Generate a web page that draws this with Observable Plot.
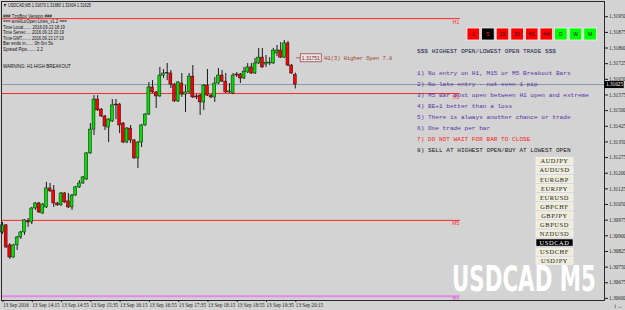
<!DOCTYPE html>
<html><head><meta charset="utf-8">
<script src="https://cdn.jsdelivr.net/npm/d3@7"></script>
<script src="https://cdn.jsdelivr.net/npm/@observablehq/plot@0.6"></script>
<style>
body{margin:0;background:#d3d3d3;}
#wrap{position:relative;width:625px;height:310px;overflow:hidden;}
</style></head><body><div id="wrap"></div>
<script>
// ---- data (USDCAD M5, 13 Sep 2016, bars 13:35 .. 20:15) ----
const open = [
1.30916,1.30950,1.30854,1.30796,1.30854,1.30892,1.30916,1.30969,1.30964,1.31031,
1.31055,1.31007,1.31036,1.31127,1.31117,1.31055,1.31046,1.31103,1.31065,1.31036,
1.31093,1.31132,1.31151,1.31170,1.31295,1.31409,1.31553,1.31505,1.31472,1.31419,
1.31448,1.31529,1.31529,1.31438,1.31347,1.31414,1.31357,1.31271,1.31347,1.31429,
1.31481,1.31611,1.31587,1.31568,1.31668,1.31680,1.31678,1.31625,1.31544,1.31630,
1.31577,1.31587,1.31663,1.31568,1.31572,1.31539,1.31620,1.31572,1.31563,1.31630,
1.31668,1.31639,1.31587,1.31582,1.31673,1.31673,1.31654,1.31683,1.31707,1.31678,
1.31726,1.31754,1.31721,1.31726,1.31726,1.31774,1.31788,1.31754,1.31822,1.31716,
1.31670];
const high = [
1.30964,1.30954,1.30863,1.30859,1.30897,1.30921,1.30978,1.30983,1.31036,1.31060,
1.31060,1.31055,1.31156,1.31151,1.31141,1.31060,1.31108,1.31108,1.31103,1.31098,
1.31137,1.31165,1.31184,1.31299,1.31438,1.31572,1.31572,1.31510,1.31477,1.31462,
1.31553,1.31553,1.31534,1.31443,1.31419,1.31429,1.31362,1.31352,1.31433,1.31486,
1.31635,1.31644,1.31592,1.31707,1.31697,1.31726,1.31692,1.31630,1.31639,1.31678,
1.31620,1.31678,1.31716,1.31577,1.31577,1.31625,1.31697,1.31577,1.31659,1.31702,
1.31692,1.31678,1.31630,1.31678,1.31683,1.31678,1.31707,1.31726,1.31726,1.31750,
1.31798,1.31798,1.31764,1.31754,1.31798,1.31812,1.31826,1.31836,1.31831,1.31721,
1.31680];
const low = [
1.30907,1.30840,1.30787,1.30792,1.30830,1.30883,1.30902,1.30940,1.30954,1.31022,
1.31007,1.31002,1.31031,1.31108,1.31036,1.31041,1.31041,1.31055,1.31031,1.31022,
1.31089,1.31127,1.31146,1.31165,1.31290,1.31381,1.31496,1.31467,1.31405,1.31347,
1.31443,1.31457,1.31390,1.31342,1.31342,1.31342,1.31266,1.31223,1.31323,1.31424,
1.31477,1.31582,1.31510,1.31563,1.31654,1.31644,1.31606,1.31539,1.31539,1.31563,
1.31491,1.31582,1.31558,1.31553,1.31477,1.31501,1.31568,1.31558,1.31539,1.31625,
1.31635,1.31582,1.31582,1.31577,1.31659,1.31630,1.31649,1.31678,1.31673,1.31673,
1.31721,1.31702,1.31707,1.31716,1.31721,1.31759,1.31750,1.31750,1.31711,1.31673,
1.31604];
const close = [
1.30950,1.30844,1.30796,1.30854,1.30892,1.30916,1.30974,1.30964,1.31031,1.31055,
1.31012,1.31050,1.31127,1.31113,1.31055,1.31046,1.31103,1.31060,1.31036,1.31093,
1.31132,1.31151,1.31180,1.31295,1.31409,1.31553,1.31501,1.31472,1.31424,1.31457,
1.31525,1.31525,1.31429,1.31347,1.31414,1.31357,1.31271,1.31347,1.31429,1.31481,
1.31611,1.31587,1.31568,1.31668,1.31678,1.31678,1.31625,1.31544,1.31635,1.31577,
1.31587,1.31663,1.31563,1.31563,1.31539,1.31620,1.31572,1.31563,1.31630,1.31668,
1.31639,1.31587,1.31592,1.31668,1.31668,1.31654,1.31687,1.31707,1.31678,1.31726,
1.31754,1.31707,1.31730,1.31730,1.31788,1.31788,1.31754,1.31822,1.31716,1.31678,
1.31625];
const xTickBars = [0,8,16,24,32,40,48,56,64,72,80];
const xTickLabels = ["13 Sep 2016","13 Sep 14:15","13 Sep 14:55","13 Sep 15:35","13 Sep 16:15",
  "13 Sep 16:55","13 Sep 17:35","13 Sep 18:15","13 Sep 18:55","13 Sep 19:35","13 Sep 20:15"];
const yTicks = [1.30600,1.30675,1.30750,1.30825,1.30900,1.30975,1.31050,1.31125,1.31200,1.31275,
  1.31350,1.31425,1.31500,1.31575,1.31650,1.31725,1.31800,1.31875,1.31950];
const levelPrices = [1.31941, 1.31582, 1.30974, 1.30610];
const levelNames  = ["H1", "H1", "M5", "D1"];
const levelKinds  = ["h1", "h1", "m5", "d1"];
const bidPrice = 1.31625;
const labelPrice = 1.31751;
const labelText = "H1(3) Higher Open 7.8";
const headerText = "\u25BC USDCAD,M5 1.31670 1.31680 1.31604 1.31625";
const infoLines = ["### TzoBox Version ###","=== amHiLoOpen Lines_v1.2 ===",
  "Time Local....... 2016.09.13 18:19","Time Server..... 2016.09.13 20:19",
  "Time GMT........ 2016.09.13 17:19","Bar ends in...... 0h 0m 5s","Spread Pips....... 2.2"];
const warningText = "WARNING: H1 HIGH BREAKOUT";
const rulesTitle = "$$$ HIGHEST OPEN/LOWEST OPEN TRADE $$$";
const rules = ["1) No entry on H1, M15 or M5 Breakout Bars","2) No late entry - not even 1 pip",
  "3) M5 Bar must open between H1 open and extreme","4) BE+1 better than a loss",
  "5) There is always another chance or trade","6) One trade per bar",
  "7) DO NOT WAIT FOR BAR TO CLOSE","8) SELL AT HIGHEST OPEN/BUY AT LOWEST OPEN"];
const tfButtons = ["1","5","15","30","H1","H4","D","W","M"];
const tfState   = ["dn","sel","dn","dn","dn","dn","up","up","up"];
const pairs = ["AUDJPY","AUDUSD","EURGBP","EURJPY","EURUSD","GBPCHF","GBPJPY","GBPUSD","NZDUSD","USDCAD","USDCHF","USDJPY"];
const currentPair = "USDCAD";
const watermark = "USDCAD M5";

// ---- build ----
const candles = open.map((o, i) => ({i, o, h: high[i], l: low[i], c: close[i]}));
const levels = levelPrices.map((p, k) => ({price: p, name: levelNames[k], kind: levelKinds[k]}));
const X0 = -0.27, X1 = 164.48, LEVEL_END = 125.1;
const levelColor = {h1: "#ff2a2a", m5: "#ff2a2a", d1: "#e58ae5"};
const fmt = d3.format(".5f");

const svg = Plot.plot({
  width: 625, height: 310,
  marginLeft: 1, marginRight: 21, marginTop: 1, marginBottom: 10,
  x: {domain: [X0, X1], axis: null},
  y: {domain: [1.30590, 1.32023], axis: null},
  style: {background: "#d3d3d3", fontFamily: "'Liberation Serif', serif", color: "#1a1a1a"},
  marks: [
    Plot.ruleY(levels, {y: "price", x1: () => X0, x2: () => LEVEL_END,
      stroke: d => levelColor[d.kind], strokeWidth: d => d.kind === "d1" ? 2 : 1}),
    Plot.text(levels, {y: "price", x: () => LEVEL_END - 0.3, text: "name", textAnchor: "end",
      dy: 3.5, fill: d => d.kind === "d1" ? "#d020d0" : "#ff2a2a", fontSize: 5, fontFamily: "'Liberation Sans', sans-serif"}),
    Plot.ruleY([bidPrice], {stroke: "#8e98a6", strokeWidth: 1}),
    Plot.ruleX(candles, {x: "i", y1: "l", y2: "h", stroke: "#1a1a1a", strokeWidth: 1}),
    Plot.rect(candles, {x1: d => d.i - 0.4, x2: d => d.i + 0.4, y1: "o", y2: "c",
      fill: d => d.c >= d.o ? "#00e000" : "#ff0000", stroke: "#111", strokeWidth: 0.5}),
    Plot.frame({stroke: "#2a2a2a"}),
    Plot.axisY(yTicks, {anchor: "right", tickFormat: fmt, tickSize: 3, tickPadding: 1.5, fontSize: 5.3}),
    Plot.axisX(xTickBars, {anchor: "bottom", tickFormat: d => xTickLabels[xTickBars.indexOf(d)],
      textAnchor: "start", tickSize: 2, tickPadding: 1, fontSize: 5.2, dx: 0.5}),
    Plot.ruleY([bidPrice], {x1: () => X1 + 0.1, x2: () => X1 + 5.4, stroke: "#000", strokeWidth: 7}),
    Plot.text([bidPrice], {y: d => d, x: () => X1 + 2.75, text: d => fmt(d), fill: "#fff", fontSize: 5.3})
  ]
});
document.getElementById("wrap").appendChild(svg);

// ---- overlays (indicator panels) ----
let sx, sy;
try { const a = svg.scale("x"), b = svg.scale("y"); sx = a.apply; sy = b.apply; } catch (e) {}
if (!sx) { sx = d3.scaleLinear([X0, X1], [1, 604]); sy = d3.scaleLinear([1.30590, 1.32023], [300, 1]); }
const root = d3.select(svg).append("g").attr("text-anchor", "start");

// place a text at (x, y) and squeeze it horizontally to a target width
function fitText(txt, x, y, w, attrs) {
  const t = root.append("text").attr("x", 0).attr("y", 0).text(txt);
  for (const k in attrs) t.attr(k, attrs[k]);
  const n = t.node().getComputedTextLength() || w;
  t.attr("transform", `translate(${x},${y}) scale(${w / n},1)`);
  return t;
}

// price label object
const lx = sx(81.5), ly = sy(labelPrice);
root.append("line").attr("x1", sx(80.3)).attr("x2", lx).attr("y1", ly).attr("y2", ly).attr("stroke", "#b04040").attr("stroke-width", 0.8);
root.append("rect").attr("x", lx).attr("y", ly - 4).attr("width", 21).attr("height", 8)
  .attr("fill", "#e9e4e4").attr("stroke", "#a44a4a").attr("stroke-width", 0.8);
root.append("text").attr("x", lx + 10.5).attr("y", ly + 2).attr("text-anchor", "middle")
  .attr("font-family", "'Liberation Sans', sans-serif").attr("font-size", 5).attr("fill", "#7a2020").text(fmt(labelPrice));
root.append("text").attr("x", lx + 24).attr("y", ly + 2).attr("font-family", "'Liberation Mono', monospace")
  .attr("font-size", 5.4).attr("fill", "#a33b30").text(labelText);

// header and info
const sans = "'Liberation Sans', Arial, sans-serif";
fitText(headerText, 3, 7, 88, {"font-family": sans, "font-size": 5.2, fill: "#111"});
const infoW = [49, 64, 62, 61, 61, 50, 40];
infoLines.forEach((t, k) => fitText(t, 3, 17.5 + k * 5.5, infoW[k], {"font-family": sans, "font-size": 5, fill: "#111"}));
fitText(warningText, 3, 67.5, 68, {"font-family": sans, "font-size": 5, fill: "#111"});

// rules panel
const mono = "'Liberation Mono', 'Courier New', monospace";
root.append("text").attr("x", 417).attr("y", 53).attr("font-family", mono).attr("font-size", 6.1)
  .attr("fill", "#20204a").text(rulesTitle);
rules.forEach((t, k) => root.append("text").attr("x", 417).attr("y", 75.3 + k * 11)
  .attr("font-family", mono).attr("font-size", 6.1)
  .attr("fill", k === 6 ? "#ff1a1a" : k === 7 ? "#1a1a1a" : "#5a2ea6").text(t));

// timeframe buttons
tfButtons.forEach((t, k) => {
  const x = 467 + k * 14.6, st = tfState[k];
  root.append("rect").attr("x", x).attr("y", 28).attr("width", 12.6).attr("height", 12)
    .attr("fill", st === "up" ? "#00ff00" : st === "sel" ? "#000" : "#ff0000").attr("stroke", "#eeeeee").attr("stroke-width", 0.8);
  root.append("text").attr("x", x + 6.3).attr("y", 35.8).attr("text-anchor", "middle").attr("font-family", sans)
    .attr("font-size", 5).attr("fill", st === "sel" ? "#ff2020" : "#111").text(t);
});

// pair buttons
pairs.forEach((p, k) => {
  const y = 157.5 + k * 9.05, cur = p === currentPair;
  root.append("rect").attr("x", 536).attr("y", y).attr("width", 37).attr("height", 7.2)
    .attr("fill", cur ? "#000" : "#efecd9").attr("stroke", "#fafafa").attr("stroke-width", 0.6);
  root.append("text").attr("x", 554.5).attr("y", y + 5.9).attr("text-anchor", "middle")
    .attr("font-family", "'Liberation Serif', serif").attr("font-size", 6.4).attr("letter-spacing", 0.6)
    .attr("fill", cur ? "#fff" : "#222").text(p);
});

// watermark
fitText(watermark, 452, 291, 144, {"font-family": "'Liberation Sans Narrow', 'DejaVu Sans Condensed', sans-serif",
  "font-weight": "bold", "font-size": 35.5, fill: "#ffffff"});
</script></body></html>
